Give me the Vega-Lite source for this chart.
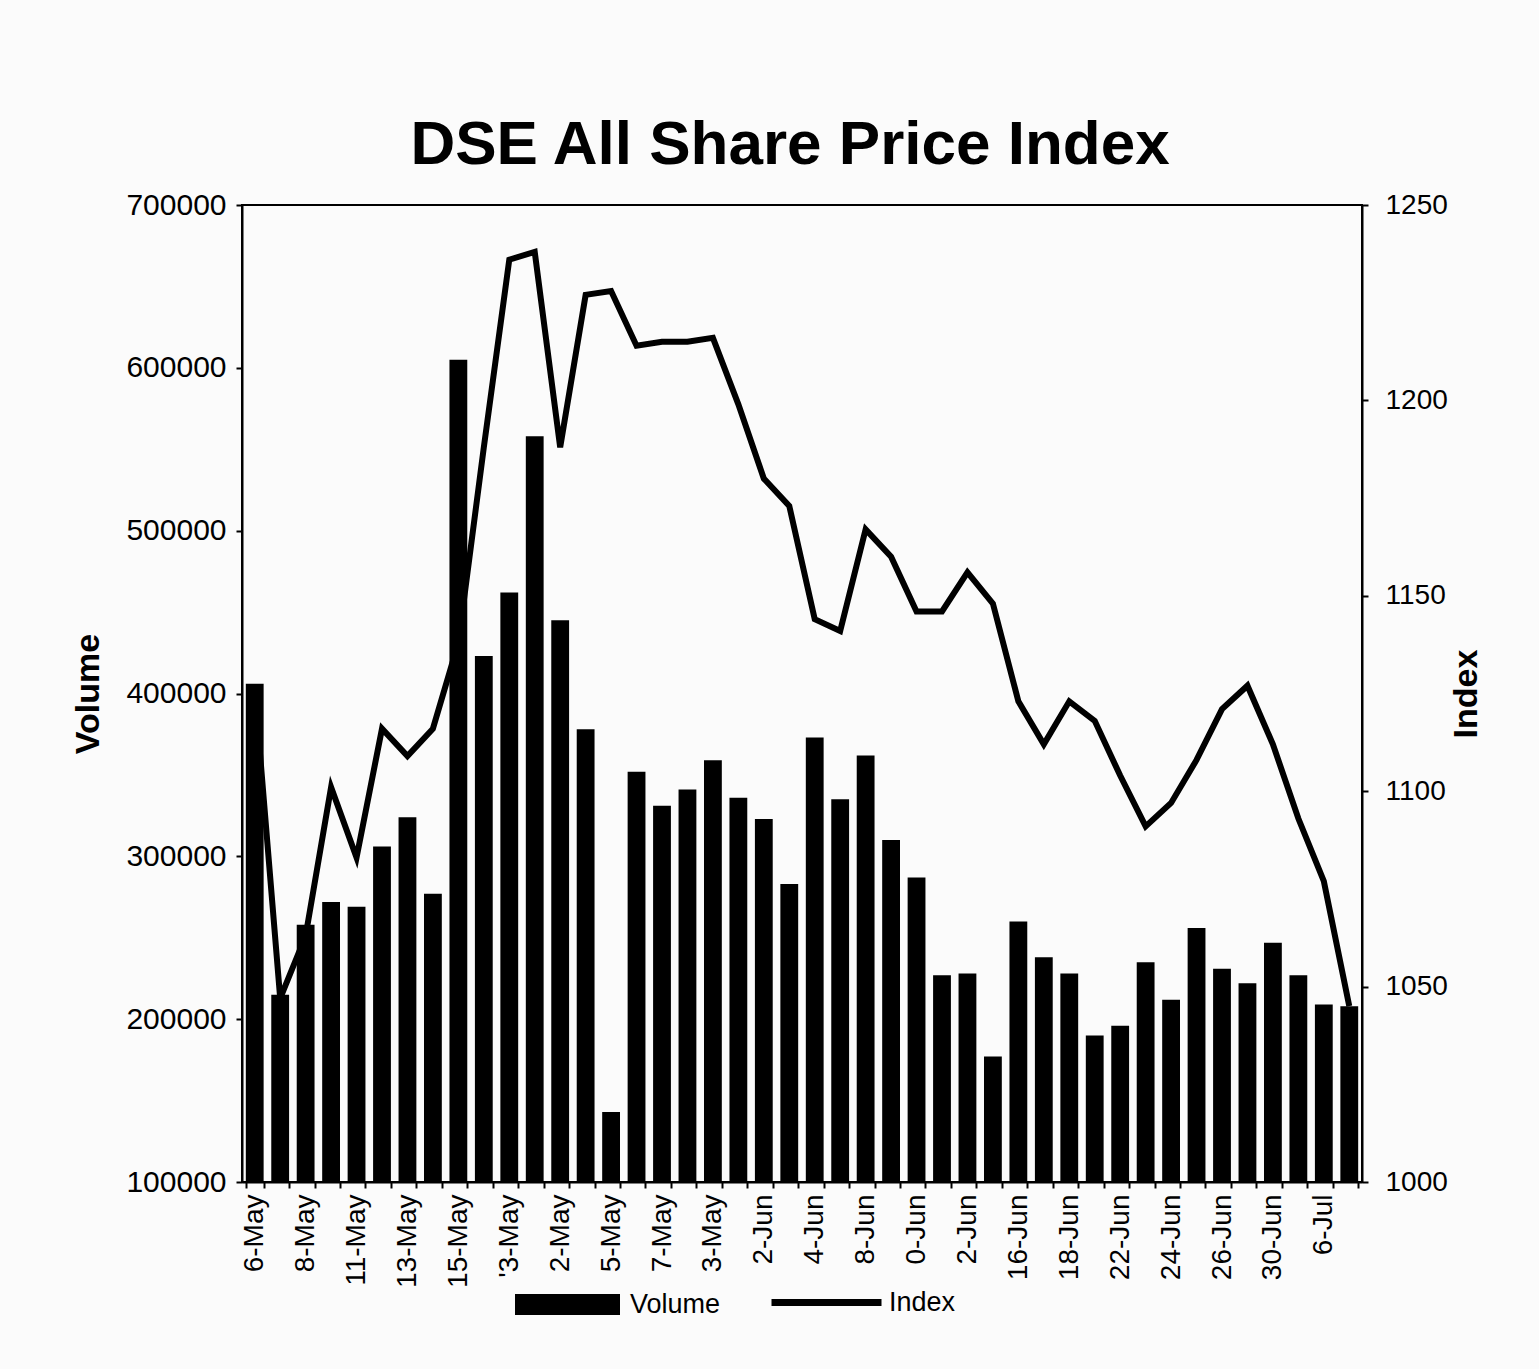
{
  "$schema": "https://vega.github.io/schema/vega-lite/v6.json",
  "width": 1120,
  "height": 977,
  "autosize": {"type": "none"},
  "padding": {"left": 242, "top": 205, "right": 177, "bottom": 187},
  "background": "#fbfbfb",
  "config": {
    "font": "Liberation Sans",
    "view": {"stroke": "#000000", "strokeWidth": 2},
    "axis": {"labelColor": "#000000", "titleColor": "#000000", "domainColor": "#000000", "tickColor": "#000000", "domainWidth": 2, "tickWidth": 2, "grid": false, "labelFont": "Liberation Sans", "titleFont": "Liberation Sans"},
    "legend": {"labelFont": "Liberation Sans", "labelColor": "#000000"}
  },
  "title": {"text": "DSE All Share Price Index", "font": "Liberation Sans", "fontSize": 62, "fontWeight": "bold", "color": "#000000", "anchor": "middle", "dx": -12, "offset": 13},
  "data": {"values": [
    {"date": "6-May", "volume": 406000, "index": 1126},
    {"date": "7-May", "volume": 215000, "index": 1047},
    {"date": "8-May", "volume": 258000, "index": 1063},
    {"date": "9-May", "volume": 272000, "index": 1101},
    {"date": "11-May", "volume": 269000, "index": 1083},
    {"date": "12-May", "volume": 306000, "index": 1116},
    {"date": "13-May", "volume": 324000, "index": 1109},
    {"date": "14-May", "volume": 277000, "index": 1116},
    {"date": "15-May", "volume": 605000, "index": 1138},
    {"date": "16-May", "volume": 423000, "index": 1188},
    {"date": "18-May", "volume": 462000, "index": 1236},
    {"date": "19-May", "volume": 558000, "index": 1238},
    {"date": "22-May", "volume": 445000, "index": 1188},
    {"date": "23-May", "volume": 378000, "index": 1227},
    {"date": "25-May", "volume": 143000, "index": 1228},
    {"date": "26-May", "volume": 352000, "index": 1214},
    {"date": "27-May", "volume": 331000, "index": 1215},
    {"date": "28-May", "volume": 341000, "index": 1215},
    {"date": "30-May", "volume": 359000, "index": 1216},
    {"date": "1-Jun", "volume": 336000, "index": 1199},
    {"date": "2-Jun", "volume": 323000, "index": 1180},
    {"date": "3-Jun", "volume": 283000, "index": 1173},
    {"date": "4-Jun", "volume": 373000, "index": 1144},
    {"date": "5-Jun", "volume": 335000, "index": 1141},
    {"date": "8-Jun", "volume": 362000, "index": 1167},
    {"date": "9-Jun", "volume": 310000, "index": 1160},
    {"date": "10-Jun", "volume": 287000, "index": 1146},
    {"date": "11-Jun", "volume": 227000, "index": 1146},
    {"date": "12-Jun", "volume": 228000, "index": 1156},
    {"date": "15-Jun", "volume": 177000, "index": 1148},
    {"date": "16-Jun", "volume": 260000, "index": 1123},
    {"date": "17-Jun", "volume": 238000, "index": 1112},
    {"date": "18-Jun", "volume": 228000, "index": 1123},
    {"date": "19-Jun", "volume": 190000, "index": 1118},
    {"date": "22-Jun", "volume": 196000, "index": 1104},
    {"date": "23-Jun", "volume": 235000, "index": 1091},
    {"date": "24-Jun", "volume": 212000, "index": 1097},
    {"date": "25-Jun", "volume": 256000, "index": 1108},
    {"date": "26-Jun", "volume": 231000, "index": 1121},
    {"date": "29-Jun", "volume": 222000, "index": 1127},
    {"date": "30-Jun", "volume": 247000, "index": 1112},
    {"date": "1-Jul", "volume": 227000, "index": 1093},
    {"date": "6-Jul", "volume": 209000, "index": 1077},
    {"date": "7-Jul", "volume": 208000, "index": 1045}
  ]},
  "encoding": {
    "x": {
      "field": "date", "type": "ordinal", "sort": null,
      "scale": {"paddingInner": 0.3, "paddingOuter": 0.15},
      "axis": {
        "title": null, "labelAngle": -90, "labelFontSize": 28, "labelPadding": 6, "tickSize": 6, "tickBand": "extent",
        "labelExpr": "datum.value == '18-May' ? \"'3-May\" : datum.value == '22-May' ? '2-May' : datum.value == '25-May' ? '5-May' : datum.value == '27-May' ? '7-May' : datum.value == '30-May' ? '3-May' : datum.value == '10-Jun' ? '0-Jun' : datum.value == '12-Jun' ? '2-Jun' : indexof(['6-May','8-May','11-May','13-May','15-May','2-Jun','4-Jun','8-Jun','16-Jun','18-Jun','22-Jun','24-Jun','26-Jun','30-Jun','6-Jul'], datum.value) >= 0 ? datum.value : ''"
      }
    }
  },
  "layer": [
    {
      "mark": {"type": "bar", "color": "#000000"},
      "encoding": {
        "y": {"field": "volume", "type": "quantitative",
          "scale": {"domain": [100000, 700000], "zero": false, "nice": false},
          "axis": {"title": "Volume", "titleFontSize": 34, "titleFontWeight": "bold", "titlePadding": 20, "labelFontSize": 30, "labelPadding": 10, "tickSize": 6, "format": "d", "values": [100000, 200000, 300000, 400000, 500000, 600000, 700000]}},
        "y2": {"datum": 100000},
        "fill": {"datum": "Volume", "type": "nominal", "scale": {"range": ["#000000"]},
          "legend": {"title": null, "orient": "none", "legendX": 273, "legendY": 1047, "symbolType": "M-1,-0.2H1V0.2H-1Z", "symbolSize": 11025, "symbolStrokeWidth": 0, "labelFontSize": 27, "labelOffset": 10, "padding": 0}}
      }
    },
    {
      "mark": {"type": "line", "color": "#000000", "strokeWidth": 6},
      "encoding": {
        "y": {"field": "index", "type": "quantitative",
          "scale": {"domain": [1000, 1250], "zero": false, "nice": false},
          "axis": {"orient": "right", "title": "Index", "titleFontSize": 34, "titleFontWeight": "bold", "titleAngle": -90, "titlePadding": 36, "labelFontSize": 28, "labelPadding": 17, "tickSize": 6, "format": "d", "values": [1000, 1050, 1100, 1150, 1200, 1250]}},
        "stroke": {"datum": "Index", "type": "nominal", "scale": {"range": ["#000000"]},
          "legend": {"title": null, "orient": "none", "legendX": 526, "legendY": 1039, "symbolType": "stroke", "symbolSize": 12100, "symbolStrokeWidth": 7, "labelFontSize": 27, "labelOffset": 4, "padding": 0}}
      }
    }
  ],
  "resolve": {"scale": {"y": "independent"}}
}
